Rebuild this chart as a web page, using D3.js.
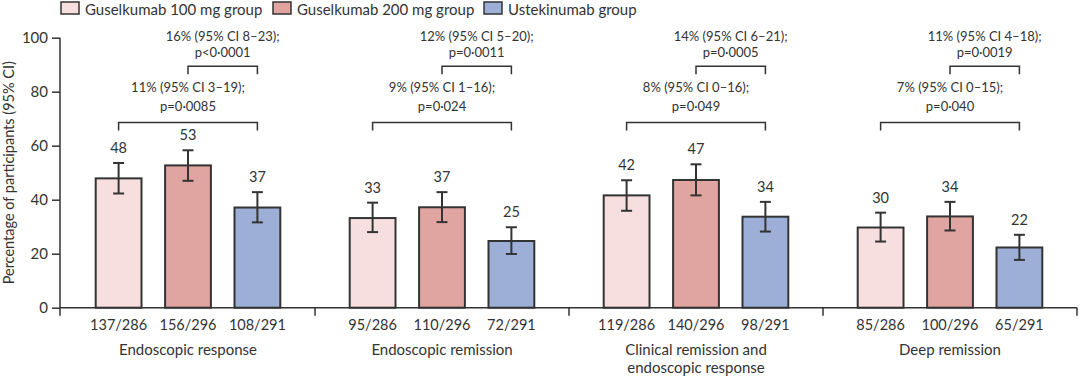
<!DOCTYPE html>
<html>
<head>
<meta charset="utf-8">
<script src="https://cdn.jsdelivr.net/npm/d3@7"></script>
<style>
  body { margin: 0; background: #fff; }
  text { font-family: Lato, "Open Sans", sans-serif; fill: #333; }
</style>
</head>
<body>
<div id="chart"></div>
<script>
// outcomes on the x axis
var groups = ["Endoscopic response", "Endoscopic remission", "Clinical remission and|endoscopic response", "Deep remission"];
var series = ["Guselkumab 100 mg group", "Guselkumab 200 mg group", "Ustekinumab group"];
var colors = ["#f6dfde", "#e0a5a0", "#9daed7"];

// percentages per group, one entry per series
var values = [[47.9, 52.7, 37.1], [33.2, 37.2, 24.7], [41.6, 47.3, 33.7], [29.7, 33.8, 22.3]];
var ciLow  = [[42.3, 47.0, 31.6], [28.0, 31.7, 19.9], [35.9, 41.6, 28.2], [24.5, 28.6, 17.7]];
var ciHigh = [[53.6, 58.3, 42.8], [38.9, 42.8, 29.8], [47.2, 53.1, 39.2], [35.2, 39.2, 27.0]];
var barLabels = [["48", "53", "37"], ["33", "37", "25"], ["42", "47", "34"], ["30", "34", "22"]];
var counts = [["137/286", "156/296", "108/291"], ["95/286", "110/296", "72/291"], ["119/286", "140/296", "98/291"], ["85/286", "100/296", "65/291"]];

// 200 mg vs ustekinumab (upper bracket), 100 mg vs ustekinumab (lower bracket)
var upperTests = [["16% (95% CI 8–23);", "p<0·0001"], ["12% (95% CI 5–20);", "p=0·0011"], ["14% (95% CI 6–21);", "p=0·0005"], ["11% (95% CI 4–18);", "p=0·0019"]];
var lowerTests = [["11% (95% CI 3–19);", "p=0·0085"], ["9% (95% CI 1–16);", "p=0·024"], ["8% (95% CI 0–16);", "p=0·049"], ["7% (95% CI 0–15);", "p=0·040"]];

var yTicks = [0, 20, 40, 60, 80, 100];

var w = 1080, h = 379;
var ink = "#333";

var svg = d3.select("#chart").append("svg")
  .attr("width", w).attr("height", h);

var xScale = d3.scaleBand().domain(d3.range(groups.length)).range([61, 1077]).padding(0);
var xInner = d3.scaleBand().domain(d3.range(series.length)).range([0, xScale.bandwidth()])
  .paddingInner(0.34).paddingOuter(0.5);
var yScale = d3.scaleLinear().domain([0, 100]).range([307.7, 37.7]);

function barCenter(g, s) {
  return xScale(g) + xInner(s) + xInner.bandwidth() / 2;
}

// y axis
var yAxis = d3.axisLeft(yScale).tickValues(yTicks).tickSize(8).tickPadding(4);
var gy = svg.append("g").attr("transform", "translate(60,0)").call(yAxis);
gy.select(".domain").remove();
gy.selectAll(".tick line").attr("stroke", ink).attr("stroke-width", 1.5);
gy.selectAll(".tick text").style("font-size", "15px").attr("fill", ink);
svg.append("line")
  .attr("x1", 60).attr("x2", 60)
  .attr("y1", yScale(100)).attr("y2", yScale(0) + 8)
  .attr("stroke", ink).attr("stroke-width", 1.5);

svg.append("text")
  .attr("transform", "translate(14," + yScale(50) + ") rotate(-90)")
  .attr("text-anchor", "middle")
  .style("font-size", "14.5px")
  .text("Percentage of participants (95% CI)");

// x baseline and group separators
svg.append("line")
  .attr("x1", 60).attr("x2", xScale.range()[1])
  .attr("y1", yScale(0)).attr("y2", yScale(0))
  .attr("stroke", ink).attr("stroke-width", 1.5);
svg.selectAll(".sep").data(d3.range(groups.length)).enter().append("line")
  .attr("x1", function(d) { return xScale(d) + xScale.bandwidth(); })
  .attr("x2", function(d) { return xScale(d) + xScale.bandwidth(); })
  .attr("y1", yScale(0)).attr("y2", yScale(0) + 8)
  .attr("stroke", ink).attr("stroke-width", 1.5);

// bars
var gGroup = svg.selectAll(".grp").data(groups).enter().append("g");

gGroup.each(function(name, g) {
  var sel = d3.select(this);
  series.forEach(function(s, i) {
    var cx = barCenter(g, i);
    var bw = xInner.bandwidth();
    sel.append("rect")
      .attr("x", cx - bw / 2).attr("width", bw)
      .attr("y", yScale(values[g][i]))
      .attr("height", yScale(0) - yScale(values[g][i]))
      .attr("fill", colors[i])
      .attr("stroke", ink).attr("stroke-width", 2);

    // error bar
    sel.append("line")
      .attr("x1", cx).attr("x2", cx)
      .attr("y1", yScale(ciLow[g][i])).attr("y2", yScale(ciHigh[g][i]))
      .attr("stroke", ink).attr("stroke-width", 2);
    [ciLow[g][i], ciHigh[g][i]].forEach(function(v) {
      sel.append("line")
        .attr("x1", cx - 5.5).attr("x2", cx + 5.5)
        .attr("y1", yScale(v)).attr("y2", yScale(v))
        .attr("stroke", ink).attr("stroke-width", 2);
    });

    sel.append("text")
      .attr("x", cx).attr("y", yScale(ciHigh[g][i]) - 10)
      .attr("text-anchor", "middle")
      .style("font-size", "14.5px")
      .text(barLabels[g][i]);

    sel.append("text")
      .attr("x", cx).attr("y", yScale(0) + 22)
      .attr("text-anchor", "middle")
      .style("font-size", "14.5px")
      .text(counts[g][i]);
  });

  var lines = name.split("|");
  lines.forEach(function(t, k) {
    sel.append("text")
      .attr("x", barCenter(g, 1)).attr("y", yScale(0) + 47 + k * 18)
      .attr("text-anchor", "middle")
      .style("font-size", "15px")
      .text(t);
  });

  // significance brackets
  function bracket(a, b, level, txt, off1, off2) {
    var x1 = barCenter(g, a), x2 = barCenter(g, b), y = yScale(level);
    sel.append("path")
      .attr("d", "M" + x1 + "," + (y + 8) + "V" + y + "H" + x2 + "V" + (y + 8))
      .attr("fill", "none").attr("stroke", ink).attr("stroke-width", 1.5);
    var mx = (x1 + x2) / 2;
    sel.append("text").attr("x", mx).attr("y", y - off1)
      .attr("text-anchor", "middle").style("font-size", "13px").text(txt[0]);
    sel.append("text").attr("x", mx).attr("y", y - off2)
      .attr("text-anchor", "middle").style("font-size", "13px").text(txt[1]);
  }
  bracket(1, 2, 89.4, upperTests[g], 25, 9);
  bracket(0, 2, 68.6, lowerTests[g], 30, 11);
});

// legend
var legendX = [60, 272, 483];
series.forEach(function(s, i) {
  svg.append("rect")
    .attr("x", legendX[i] + 1).attr("y", 2)
    .attr("width", 18).attr("height", 12)
    .attr("fill", colors[i]).attr("stroke", ink).attr("stroke-width", 1.5);
  svg.append("text")
    .attr("x", legendX[i] + 25).attr("y", 15)
    .style("font-size", "15px")
    .text(s);
});
</script>
</body>
</html>
